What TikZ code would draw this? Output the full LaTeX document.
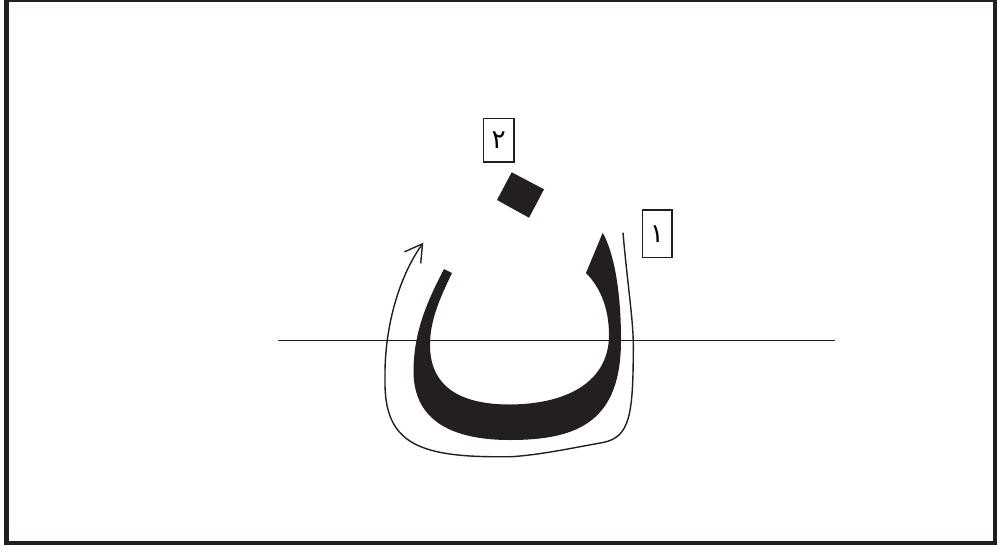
\documentclass[tikz,border=0pt]{standalone}
\usepackage{fontspec}
\newfontfamily\arabicfont[Script=Arabic]{DejaVu Sans}
\TeXXeTstate=1
\usetikzlibrary{arrows.meta}
\definecolor{ink}{RGB}{35,31,32}

\begin{document}
\begin{tikzpicture}[
    x=0.2mm, y=-0.2mm,
    frame/.style={line width=2.7pt, line join=miter, ink},
    numbox/.style={draw=ink, rectangle, line width=0.85pt, inner sep=0pt, align=center, font=\arabicfont\fontsize{15}{17}\selectfont},
    guide/.style={line width=0.8pt, ink},
    strokepath/.style={line width=0.8pt, ink, -{Straight Barb[length=3.4mm, width=4mm]}}
]
    \useasboundingbox (0,0) rectangle (997,549);

    % Frame
    \draw[line width=1pt, ink] (4,0.9) -- (997,0.9);
    \draw[frame] (995,0.9) -- (995,543) -- (6.5,543) -- (6.5,0.9);

    % Baseline
    \draw[guide] (278,340.5) -- (835,340.5);

    % Letter body
    \fill[ink] (602.7,232.7) .. controls (615,255) and (621,295) .. (621,340)
        .. controls (621,420) and (580,440) .. (510,440)
        .. controls (440,440) and (413,412) .. (413.5,370)
        .. controls (414,330) and (428,300) .. (444,269)
        -- (452,273)
        .. controls (440,298) and (430,320) .. (430,345)
        .. controls (430,390) and (465,404.5) .. (510,404.5)
        .. controls (570,404) and (609,380) .. (609,335)
        .. controls (609,305) and (598,285) .. (586,273)
        -- cycle;

    % Dot
    \fill[ink] (511.7,172.3) -- (544,189.3) -- (529,217.7) -- (497,200) -- cycle;

    % Stroke direction
    \coordinate (start) at (623,232.7);
    \coordinate (tip) at (423.3,242.7);
    \draw[strokepath] (start) .. controls (627,280) and (633.3,320) .. (633.3,345)
        .. controls (633.3,415) and (630,437) .. (603,442.5)
        .. controls (572,448) and (540,455) .. (511,456.7)
        .. controls (420,458) and (384,445) .. (385,380)
        .. controls (384,330) and (398,278) .. (tip);

    % Order numbers
    \node[numbox, minimum width=6.1mm, minimum height=8.7mm] (dotnum) at (498.7,140) {\beginR ٢\endR};
    \node[numbox, minimum width=5.9mm, minimum height=9.5mm] (bodynum) at (657,233.7) {\beginR ١\endR};

\end{tikzpicture}
\end{document}
